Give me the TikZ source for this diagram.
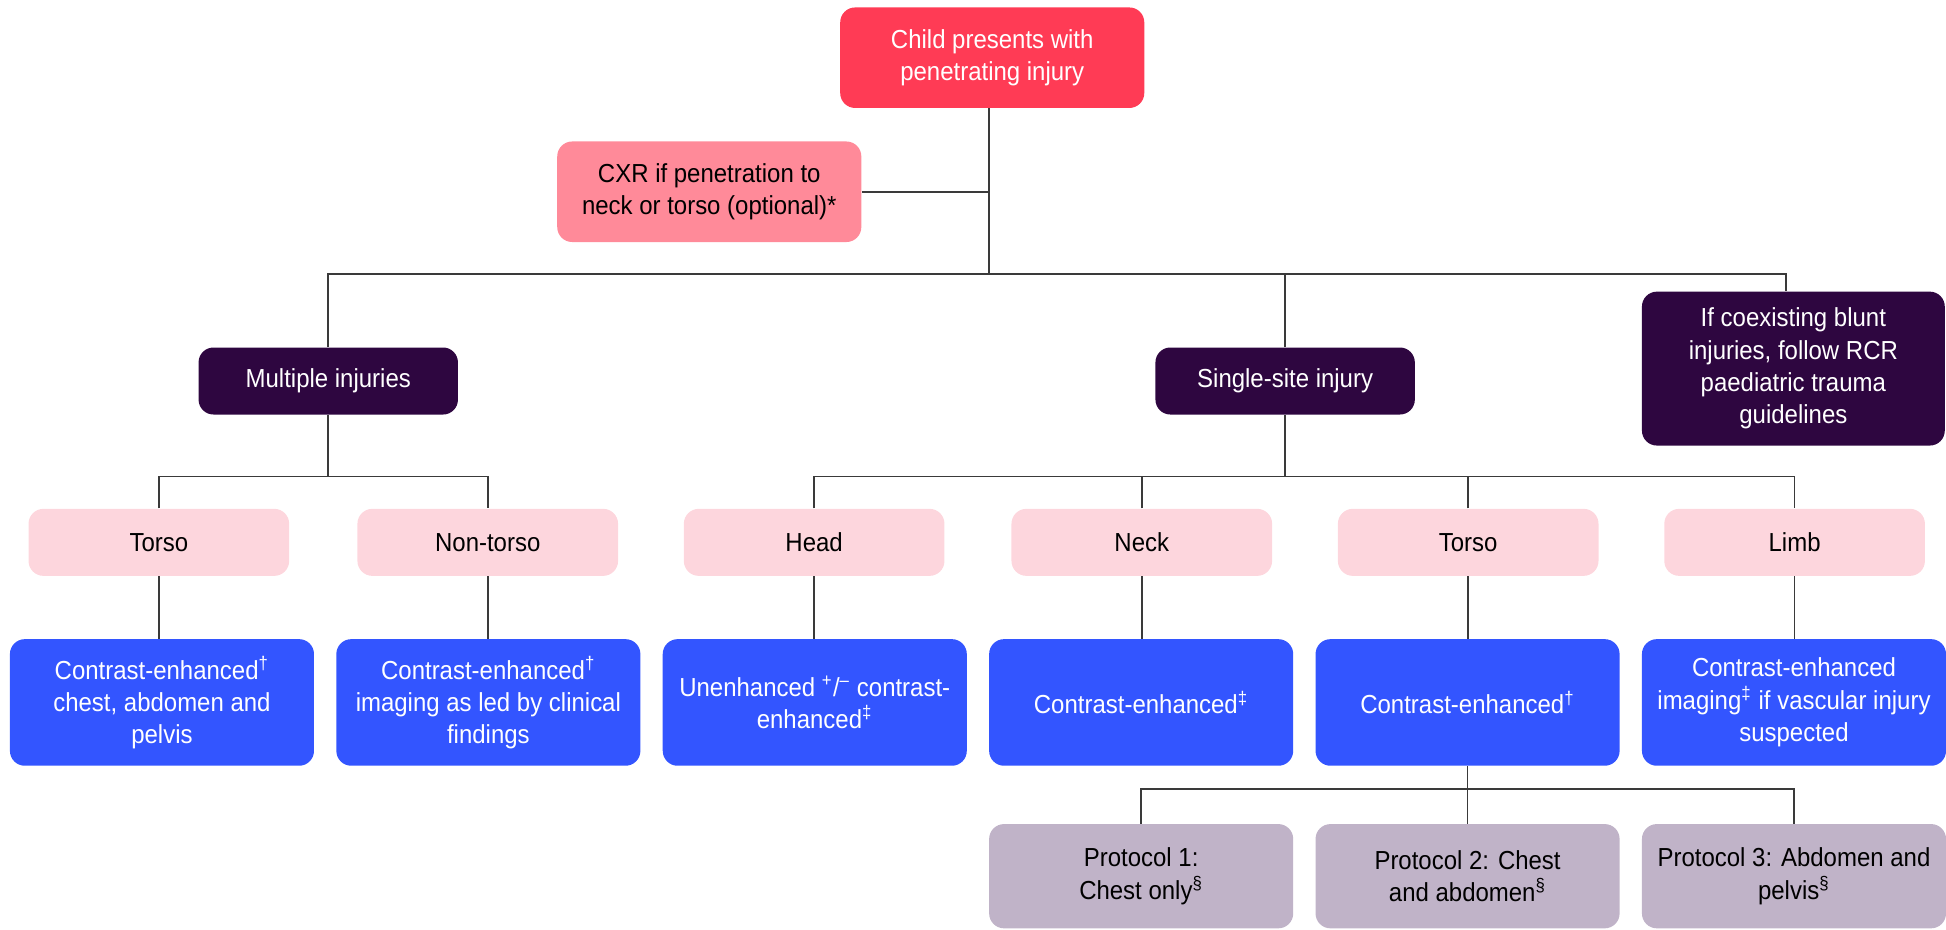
\documentclass[tikz,border=0pt]{standalone}
\usepackage{fontspec}
\setmainfont{Liberation Sans}[FakeStretch=0.92]
\usepackage{xcolor}
\definecolor{startred}{HTML}{FF3B55}
\definecolor{cxrpink}{HTML}{FF8A99}
\definecolor{deeppurple}{HTML}{2E0640}
\definecolor{sitepink}{HTML}{FDD6DD}
\definecolor{scanblue}{HTML}{3355FF}
\definecolor{protomauve}{HTML}{C0B3C8}
\definecolor{linegrey}{HTML}{3A3A3A}
\tikzstyle{every node}+=[inner sep=0pt]
\tikzstyle{box}=[rounded corners=6pt, align=center, font=\fontsize{10.5}{13}\selectfont]
\tikzstyle{startbox}=[box, fill=startred, text=white, minimum width=122.5pt, minimum height=40.5pt]
\tikzstyle{cxrbox}=[box, fill=cxrpink, text=black, minimum width=122.5pt, minimum height=40.5pt]
\tikzstyle{groupbox}=[box, fill=deeppurple, text=white, minimum width=104.5pt, minimum height=27pt]
\tikzstyle{sitebox}=[box, fill=sitepink, text=black, minimum width=105pt, minimum height=27pt]
\tikzstyle{scanbox}=[box, fill=scanblue, text=white, minimum width=122.5pt, minimum height=51pt]
\tikzstyle{protobox}=[box, fill=protomauve, text=black, minimum width=122.5pt, minimum height=42pt]
\tikzstyle{conn}=[linegrey, line width=0.7pt]

\begin{document}
\begin{tikzpicture}[x=0.5pt, y=-0.5pt]
\useasboundingbox (0,0) rectangle (1568,749);

% top of the tree
\node [startbox] (start) at (799.5,46.5) {Child presents with\\penetrating injury};
\node [cxrbox] (cxr) at (571.5,154.5) {CXR if penetration to\\neck or torso (optional)*};
\node [groupbox] (multi) at (264.5,307) {Multiple injuries};
\node [groupbox] (single) at (1035.5,307) {Single-site injury};
\node [groupbox, minimum width=122pt, minimum height=62pt] (blunt) at (1445,297)
  {If coexisting blunt\\injuries, follow RCR\\paediatric trauma\\guidelines};
\coordinate (trunk) at (797,221);

\draw [conn] (start.south -| trunk) -- (trunk);
\draw [conn] (cxr.east) -- (cxr.east -| trunk);
\draw [conn] (multi.north) |- (trunk) -| ([xshift=-3pt]blunt.north);
\draw [conn] (single.north) -- (single.north |- trunk);

% sites
\node [sitebox] (torsoM) at (128,437) {Torso};
\node [sitebox] (nontorso) at (393,437) {Non-torso};
\node [sitebox] (head) at (656,437) {Head};
\node [sitebox] (neck) at (920,437) {Neck};
\node [sitebox] (torsoS) at (1183,437) {Torso};
\node [sitebox] (limb) at (1446,437) {Limb};
\coordinate (multijoin) at (264.5,384);
\coordinate (singlejoin) at (1035.5,384);

\draw [conn] (multi.south) -- (multijoin);
\draw [conn] (torsoM.north) |- (multijoin) -| (nontorso.north);
\draw [conn] (single.south) -- (singlejoin);
\draw [conn] (head.north) |- (singlejoin) -| (limb.north);
\draw [conn] (neck.north) -- (neck.north |- singlejoin);
\draw [conn] (torsoS.north) -- (torsoS.north |- singlejoin);

% imaging
\node [scanbox] (scanA) at (130.5,566) {Contrast-enhanced\textsuperscript{†}\\chest, abdomen and\\pelvis};
\node [scanbox] (scanB) at (393.5,566) {Contrast-enhanced\textsuperscript{†}\\imaging as led by clinical\\findings};
\node [scanbox] (scanC) at (656.5,566) {Unenhanced \textsuperscript{+}/\textsuperscript{–} contrast-\\enhanced\textsuperscript{‡}};
\node [scanbox] (scanD) at (919.5,566) {Contrast-enhanced\textsuperscript{‡}};
\node [scanbox] (scanE) at (1182.5,566) {Contrast-enhanced\textsuperscript{†}};
\node [scanbox] (scanF) at (1445.5,566) {Contrast-enhanced\\imaging\textsuperscript{‡} if vascular injury\\suspected};

\foreach \site/\scan in {torsoM/scanA, nontorso/scanB, head/scanC, neck/scanD, torsoS/scanE, limb/scanF}
  \draw [conn] (\site.south) -- (\site.south |- \scan.north);

% torso protocols
\node [protobox] (protoA) at (919.5,706) {Protocol 1:\\Chest only\textsuperscript{§}};
\node [protobox] (protoB) at (1182.5,706) {Protocol 2: Chest\\and abdomen\textsuperscript{§}};
\node [protobox] (protoC) at (1445.5,706) {Protocol 3: Abdomen and\\pelvis\textsuperscript{§}};
\coordinate (protojoin) at (1182.5,636);

\draw [conn] (scanE.south) -- (protojoin);
\draw [conn] (protoA.north) |- (protojoin) -| (protoC.north);
\draw [conn] (protoB.north) -- (protojoin);
\end{tikzpicture}
\end{document}
